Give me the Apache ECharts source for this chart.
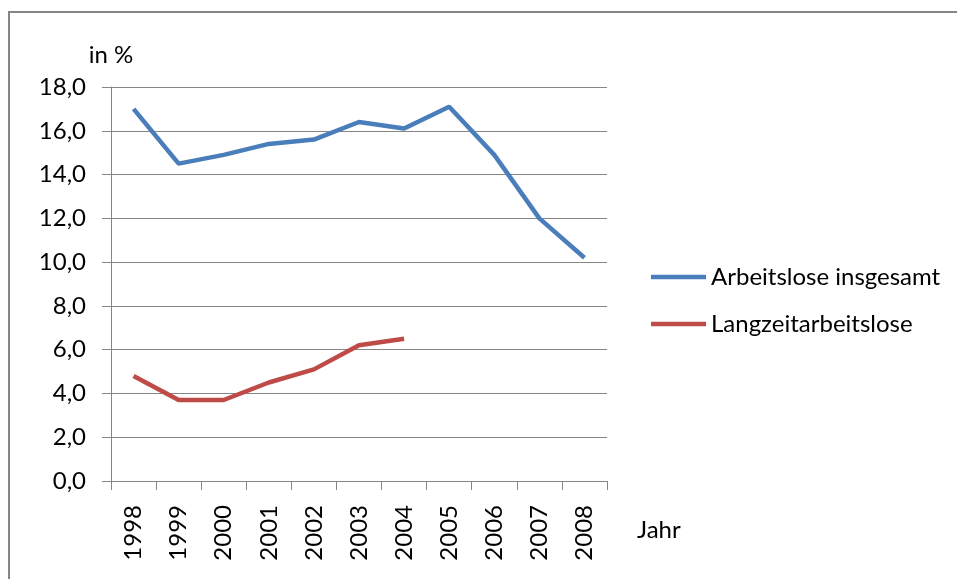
<!DOCTYPE html>
<html>
<head>
<meta charset="utf-8">
<script src="https://cdn.jsdelivr.net/npm/echarts@6/dist/echarts.min.js"></script>
<style>
  html, body { margin: 0; padding: 0; background: #fff; }
  #chart { width: 957px; height: 579px; }
</style>
</head>
<body>
<div id="chart"></div>
<script>
// Jahre
var years = ["1998", "1999", "2000", "2001", "2002", "2003", "2004", "2005", "2006", "2007", "2008"];
// Arbeitslose insgesamt, in %
var insgesamt = [17.0, 14.5, 14.9, 15.4, 15.6, 16.4, 16.1, 17.1, 14.9, 12.0, 10.2];
// Langzeitarbeitslose, in % (nur bis 2004)
var langzeit = [4.8, 3.7, 3.7, 4.5, 5.1, 6.2, 6.5, null, null, null, null];

var FONT = "Lato";
var FS = 24;
var GREY = "#868686";

var chart = echarts.init(document.getElementById("chart"));

chart.setOption({
  backgroundColor: "#fff",
  animation: false,
  textStyle: { fontFamily: FONT, color: "#000" },
  graphic: [
    {
      type: "rect",
      shape: { x: 9, y: 12, width: 1000, height: 600 },
      style: { fill: "none", stroke: GREY, lineWidth: 2 }
    },
    {
      type: "text",
      left: 637,
      top: 518,
      style: { text: "Jahr", fontFamily: FONT, fontSize: FS, fill: "#000" }
    }
  ],
  legend: {
    orient: "vertical",
    left: 646,
    top: 260,
    icon: "rect",
    itemWidth: 55,
    itemHeight: 4.5,
    itemGap: 23,
    textStyle: { fontFamily: FONT, fontSize: FS, color: "#000" },
    data: ["Arbeitslose insgesamt", "Langzeitarbeitslose"]
  },
  grid: {
    left: 111,
    right: 350,
    top: 87,
    bottom: 98
  },
  xAxis: {
    type: "category",
    data: years,
    boundaryGap: true,
    axisLine: { show: true, lineStyle: { color: GREY, width: 1 } },
    axisTick: { show: true, length: 9, lineStyle: { color: GREY } },
    axisLabel: {
      rotate: 90,
      margin: 24,
      fontFamily: FONT,
      fontSize: FS,
      color: "#000"
    }
  },
  yAxis: {
    type: "value",
    min: 0,
    max: 18,
    interval: 2,
    name: "in %",
    nameLocation: "end",
    nameGap: 20,
    nameTextStyle: { fontFamily: FONT, fontSize: FS, color: "#000" },
    axisLine: { show: true, lineStyle: { color: GREY, width: 1 } },
    axisTick: { show: true, length: 9, lineStyle: { color: GREY } },
    splitLine: { show: true, lineStyle: { color: GREY, width: 1 } },
    axisLabel: {
      margin: 25,
      fontFamily: FONT,
      fontSize: FS,
      color: "#000",
      formatter: function (v) { return v.toFixed(1).replace(".", ","); }
    }
  },
  series: [
    {
      name: "Arbeitslose insgesamt",
      type: "line",
      data: insgesamt,
      symbol: "none",
      itemStyle: { color: "#4A7EBB" },
      lineStyle: { color: "#4A7EBB", width: 4.5 }
    },
    {
      name: "Langzeitarbeitslose",
      type: "line",
      data: langzeit,
      symbol: "none",
      itemStyle: { color: "#BE4B48" },
      lineStyle: { color: "#BE4B48", width: 4.5 }
    }
  ]
});
</script>
</body>
</html>
